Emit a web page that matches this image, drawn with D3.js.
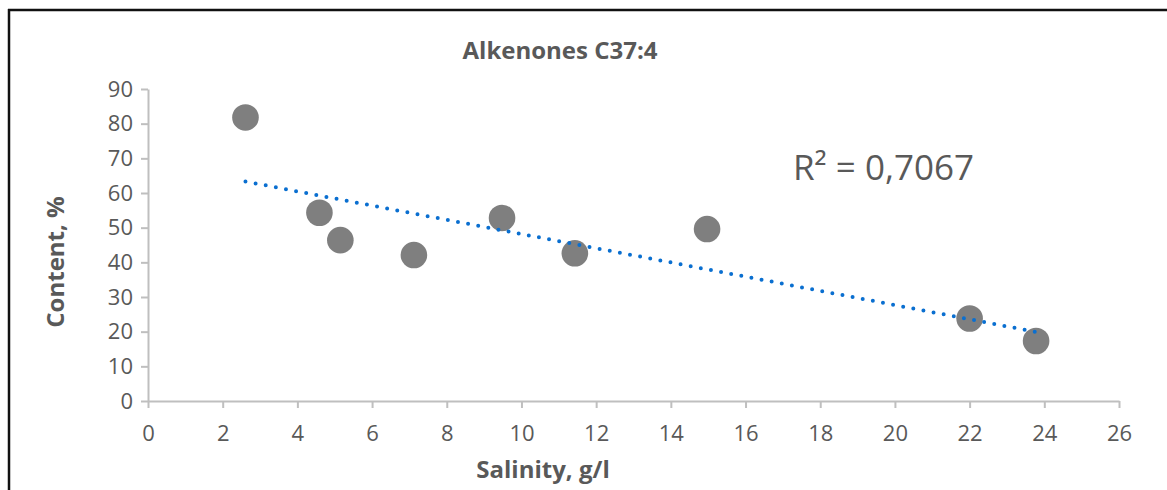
<!DOCTYPE html>
<html>
<head>
<meta charset="utf-8">
<script src="https://cdn.jsdelivr.net/npm/d3@7"></script>
<style>
  html, body { margin: 0; padding: 0; background: #fff; }
  svg { display: block; }
</style>
</head>
<body>
<svg id="chart" width="1167" height="490"></svg>
<script>
// ---- data ----
const salinity = [2.61, 4.59, 5.15, 7.12, 9.48, 11.43, 14.97, 22.0, 23.78];
const content  = [81.8, 54.3, 46.4, 42.1, 52.8, 42.6, 49.6, 23.8, 17.3];
const xTicks = [0, 2, 4, 6, 8, 10, 12, 14, 16, 18, 20, 22, 24, 26];
const yTicks = [0, 10, 20, 30, 40, 50, 60, 70, 80, 90];
const chartTitle = "Alkenones C37:4";
const xTitle = "Salinity, g/l";
const yTitle = "Content, %";
const r2Label = "R² = 0,7067";

const svg = d3.select("#chart");
const FONT = "'Open Sans', 'Noto Sans', sans-serif";

const x = d3.scaleLinear().domain([0, 26]).range([148, 1119]);
const y = d3.scaleLinear().domain([0, 90]).range([401, 89]);

// outer frame (top and left edges visible)
svg.append("line").attr("x1", 8).attr("x2", 1167).attr("y1", 10).attr("y2", 10)
  .attr("stroke", "#111").attr("stroke-width", 2.5);
svg.append("line").attr("x1", 9).attr("x2", 9).attr("y1", 9).attr("y2", 490)
  .attr("stroke", "#111").attr("stroke-width", 2.5);

// axes
const axisColor = "#bfbfbf";
const xAxis = svg.append("g").attr("transform", `translate(0,${y(0)})`)
  .call(d3.axisBottom(x).tickValues(xTicks).tickSize(7).tickSizeOuter(0));
const yAxis = svg.append("g").attr("transform", `translate(${x(0)},0)`)
  .call(d3.axisLeft(y).tickValues(yTicks).tickSize(7).tickSizeOuter(0).tickPadding(8));
[xAxis, yAxis].forEach(g => {
  g.select(".domain").attr("stroke", axisColor).attr("stroke-width", 2);
  g.selectAll(".tick line").attr("stroke", axisColor).attr("stroke-width", 2);
  g.selectAll(".tick text").attr("fill", "#595959")
    .style("font-family", FONT).style("font-size", "22px");
});
xAxis.selectAll(".tick text").attr("y", 40).attr("dy", 0);

// trendline (least squares fit of the data)
const n = salinity.length;
const mx = d3.mean(salinity), my = d3.mean(content);
let sxy = 0, sxx = 0;
for (let i = 0; i < n; i++) {
  sxy += (salinity[i] - mx) * (content[i] - my);
  sxx += (salinity[i] - mx) ** 2;
}
const slope = sxy / sxx, intercept = my - slope * mx;
const x0 = d3.min(salinity), x1 = d3.max(salinity);

const pts = salinity.map((s, i) => ({ s, c: content[i] }));

svg.append("g").selectAll("circle").data(pts).join("circle")
  .attr("cx", d => x(d.s)).attr("cy", d => y(d.c)).attr("r", 13.3)
  .attr("fill", "#7f7f7f");

svg.append("line")
  .attr("x1", x(x0)).attr("y1", y(intercept + slope * x0))
  .attr("x2", x(x1)).attr("y2", y(intercept + slope * x1))
  .attr("stroke", "#0a6fd0").attr("stroke-width", 4)
  .attr("stroke-linecap", "round").attr("stroke-dasharray", "0 10.3");

// texts
svg.append("text").attr("x", 560).attr("y", 59).attr("text-anchor", "middle")
  .attr("fill", "#595959").style("font-family", FONT).style("font-weight", "bold")
  .style("font-size", "24px").text(chartTitle);

svg.append("text").attr("x", 543).attr("y", 478).attr("text-anchor", "middle")
  .attr("fill", "#595959").style("font-family", FONT).style("font-weight", "bold")
  .style("font-size", "24px").text(xTitle);

svg.append("text").attr("transform", "translate(64,262) rotate(-90)")
  .attr("text-anchor", "middle")
  .attr("fill", "#595959").style("font-family", FONT).style("font-weight", "bold")
  .style("font-size", "24px").text(yTitle);

svg.append("text").attr("x", 793).attr("y", 180)
  .attr("fill", "#595959").style("font-family", FONT)
  .style("font-size", "35px").text(r2Label);
</script>
</body>
</html>
